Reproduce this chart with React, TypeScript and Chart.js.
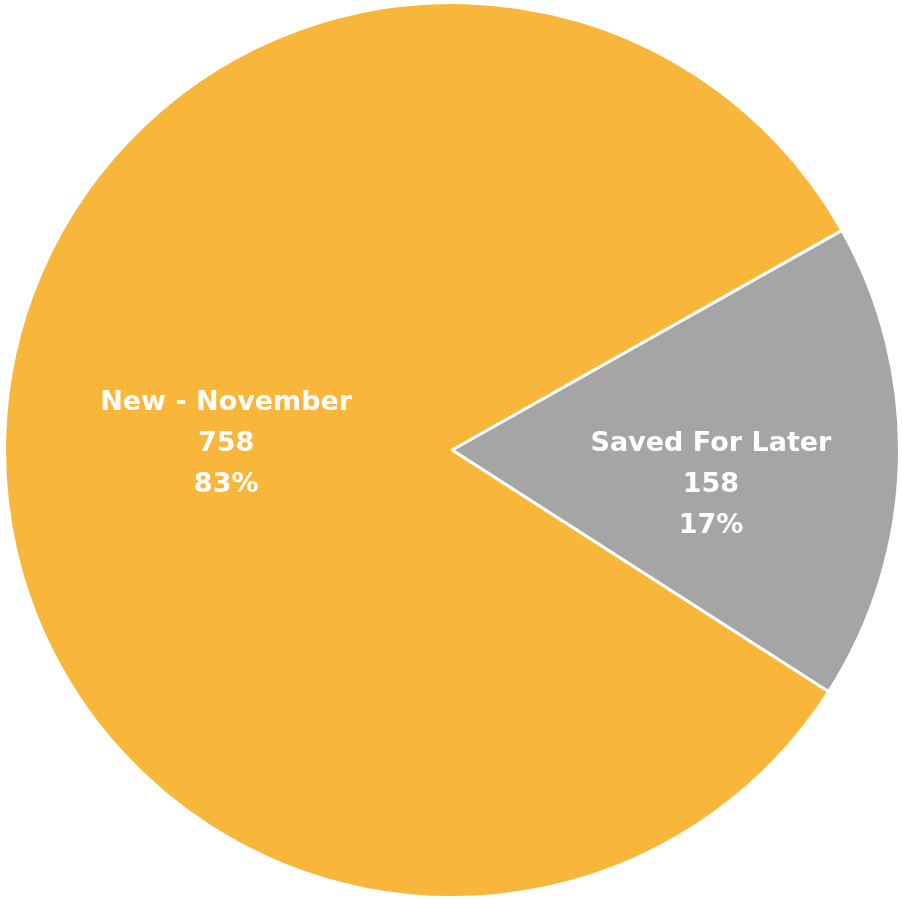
import React, { useEffect, useRef } from "react";
import { Chart, registerables } from "chart.js";

Chart.register(...registerables);

const categories = ["Saved For Later", "New - November"];
const values = [158, 758];
const percentLabels = ["17%", "83%"];
const colors = ["#A5A5A5", "#F8B63A"];

const labelPlugin = {
  id: "sliceLabels",
  afterDatasetsDraw(chart: any) {
    const ctx = chart.ctx;
    const meta = chart.getDatasetMeta(0);
    const frac = [0.583, 0.505];
    const shift = [5.3, 0.6];
    ctx.save();
    ctx.fillStyle = "#FFFFFF";
    ctx.font = "bold 27px 'DejaVu Sans'";
    ctx.textAlign = "center";
    ctx.textBaseline = "middle";
    meta.data.forEach((arc: any, i: number) => {
      const p = arc.getProps(["x", "y", "startAngle", "endAngle", "outerRadius"], true);
      const mid = (p.startAngle + p.endAngle) / 2 + (shift[i] * Math.PI) / 180;
      const r = p.outerRadius * frac[i];
      const cx = p.x + Math.cos(mid) * r;
      const cy = p.y + Math.sin(mid) * r + 3;
      const lines = [categories[i], String(values[i]), percentLabels[i]];
      lines.forEach((t, j) => {
        ctx.fillText(t, cx, cy + (j - 1) * 41);
      });
    });
    ctx.restore();
  },
};

export default function App() {
  const ref = useRef<HTMLCanvasElement>(null);
  useEffect(() => {
    if (!ref.current) return;
    const chart = new Chart(ref.current, {
      type: "pie",
      data: {
        labels: categories,
        datasets: [
          {
            data: values,
            backgroundColor: colors,
            borderColor: "#FFFFFF",
            borderWidth: 3,
          },
        ],
      },
      options: {
        responsive: false,
        animation: false,
        rotation: 60.6,
        layout: { padding: { left: 3, right: 1, top: 0, bottom: 0 } },
        plugins: {
          legend: { display: false },
          tooltip: { enabled: false },
          title: { display: false },
        },
      },
      plugins: [labelPlugin],
    });
    return () => chart.destroy();
  }, []);
  return (
    <div style={{ position: "fixed", left: 0, top: 0, width: 902, height: 900, background: "#FFFFFF" }}>
      <canvas ref={ref} width={902} height={900} style={{ width: 902, height: 900 }} />
    </div>
  );
}
